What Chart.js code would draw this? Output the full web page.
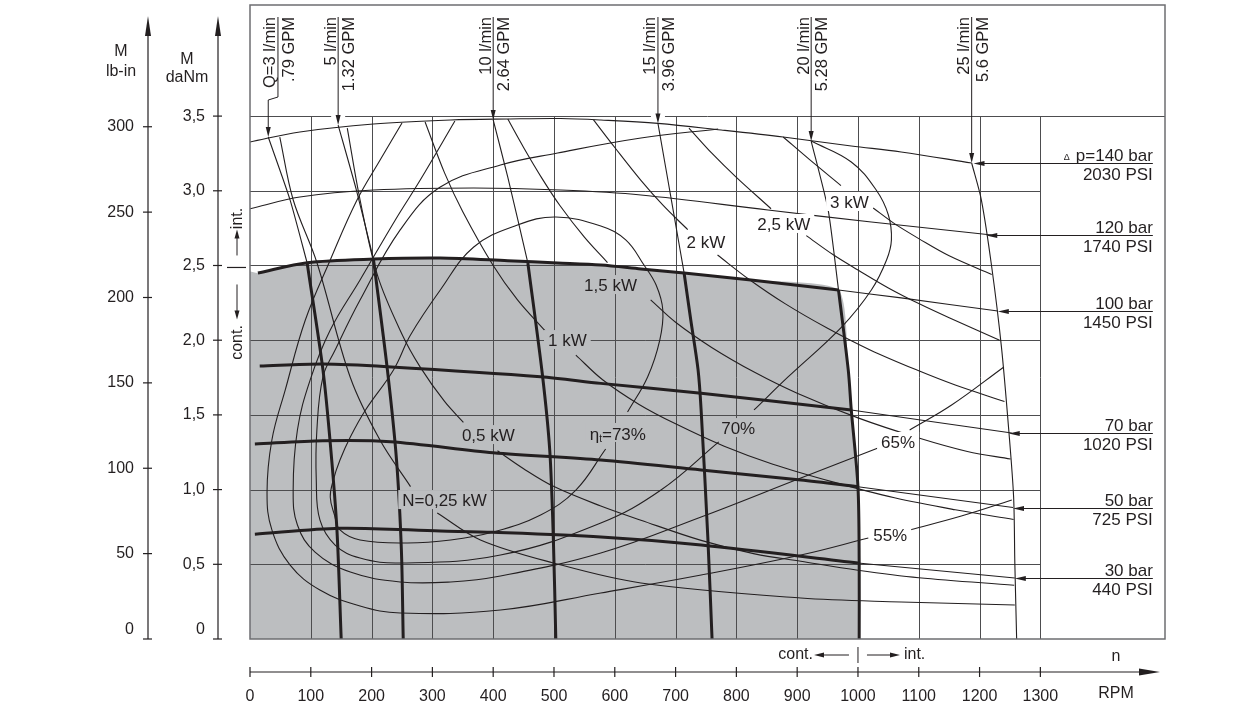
<!DOCTYPE html>
<html><head><meta charset="utf-8">
<script src="https://cdn.jsdelivr.net/npm/chart.js@4/dist/chart.umd.min.js"></script>
<style>html,body{margin:0;padding:0;background:#fff;}canvas{display:block;}</style>
</head><body>
<canvas id="c" width="1259" height="717"></canvas>
<script>
// ---------------- axis ticks ----------------
const rpmTicks = [0,100,200,300,400,500,600,700,800,900,1000,1100,1200,1300];
const danmTicks = [0,0.5,1,1.5,2,2.5,3,3.5];
const danmTickLabels = ['0','0,5','1,0','1,5','2,0','2,5','3,0','3,5'];
const lbinTicks = [0,50,100,150,200,250,300];
const gridN = [100,200,300,400,500,600,700,800,900,1000,1100,1200,1300];
const gridM = [0.5,1,1.5,2,2.5,3];

// ---------------- pressure lines (n rpm, M daNm) ----------------
const p140N = [0, 82, 203, 330, 424, 511, 577, 671, 775, 877, 989, 1071, 1187];
const p140M = [3.327, 3.394, 3.447, 3.474, 3.481, 3.484, 3.474, 3.451, 3.407, 3.360, 3.300, 3.260, 3.186];
const p120N = [0, 82, 203, 368, 511, 643, 852, 1022, 1220];
const p120M = [2.880, 2.958, 3.005, 3.019, 3.005, 2.972, 2.871, 2.791, 2.704];
const p100N = [13, 94, 203, 313, 424, 506, 577, 643, 714, 824, 968];
const p100M = [2.450, 2.519, 2.543, 2.550, 2.532, 2.517, 2.503, 2.477, 2.450, 2.403, 2.336];
const p100tN = [968, 1071, 1230];
const p100tM = [2.336, 2.283, 2.195];
const p70N = [16, 120, 226, 478, 577, 742, 989];
const p70M = [1.827, 1.841, 1.823, 1.756, 1.711, 1.645, 1.533];
const p70tN = [989, 1120, 1253];
const p70tM = [1.533, 1.456, 1.379];
const p50N = [8, 120, 231, 400, 577, 742, 906, 1000];
const p50M = [1.305, 1.327, 1.321, 1.247, 1.198, 1.131, 1.064, 1.019];
const p50tN = [1000, 1255];
const p50tM = [1.019, 0.880];
const p30N = [8, 148, 313, 400, 577, 742, 1000];
const p30M = [0.701, 0.741, 0.723, 0.714, 0.683, 0.629, 0.509];
const p30tN = [1000, 1258];
const p30tM = [0.509, 0.408];
const contLeftM = 2.46;

// ---------------- flow lines ----------------
const q3N = [30, 66, 94];          const q3M = [3.36, 2.938, 2.517];
const q3kN = [94, 120, 133, 143, 150];   const q3kM = [2.517, 1.801, 1.265, 0.730, 0];
const q5N = [145, 175, 203];       const q5M = [3.44, 3.005, 2.544];
const q5kN = [203, 226, 241, 249, 252];  const q5kM = [2.544, 1.801, 1.198, 0.596, 0];
const q10N = [400, 424, 457];      const q10M = [3.474, 3.092, 2.517];
const q10kN = [457, 481, 493, 499, 503]; const q10kM = [2.517, 1.767, 1.265, 0.663, 0];
const q15N = [671, 696, 714];      const q15M = [3.451, 2.871, 2.450];
const q15kN = [714, 725, 737, 742, 753, 760]; const q15kM = [2.450, 2.135, 1.801, 1.533, 0.683, 0];
const q20N = [923, 951, 968];      const q20M = [3.333, 2.871, 2.336];
const q20kN = [968, 984, 989, 1000, 1002, 1002]; const q20kM = [2.336, 1.801, 1.533, 1.017, 0.509, 0];
const q25N = [1187, 1203, 1220, 1236, 1248, 1256, 1258, 1261];
const q25M = [3.186, 2.938, 2.490, 1.954, 1.399, 0.950, 0.509, 0];

// ---------------- power lines ----------------
const kw025N = [49, 71, 110, 165, 214, 264, null, 308, 379, 499, 643, 906, 1071, 1258];
const kw025M = [3.36, 2.94, 2.52, 1.75, 1.33, 1.02, null, 0.843, 0.663, 0.509, 0.375, 0.274, 0.248, 0.228];
const kw05N = [160, 181, 210, 250, 280, 320, 351, null, 407, 450, 500, 577, 643, 742, 830, 906, 1000, 1100, 1257];
const kw05M = [3.42, 2.94, 2.43, 2.04, 1.82, 1.59, 1.45, null, 1.26, 1.14, 1.02, 0.89, 0.795, 0.66, 0.57, 0.52, 0.46, 0.41, 0.36];
const kw1N = [288, 320, 350, 400, 440, 486, null, 536, 580, 640, 700, 780, 860, 960, 1060, 1160, 1256];
const kw1M = [3.46, 3.12, 2.86, 2.50, 2.27, 2.06, null, 1.90, 1.735, 1.57, 1.44, 1.29, 1.17, 1.05, 0.945, 0.865, 0.80];
const kw15N = [424, 450, 480, 510, 550, 588, null, 659, 700, 760, 830, 900, 1000, 1100, 1180, 1251];
const kw15M = [3.48, 3.29, 3.085, 2.90, 2.69, 2.52, null, 2.27, 2.12, 1.95, 1.785, 1.645, 1.48, 1.345, 1.255, 1.205];
const kw2N = [565, 600, 643, 680, 720, null, 769, 820, 880, 950, 1020, 1100, 1160, 1241];
const kw2M = [3.475, 3.29, 3.07, 2.90, 2.74, null, 2.57, 2.41, 2.245, 2.08, 1.935, 1.795, 1.70, 1.59];
const kw25N = [722, 760, 800, 857, null, 915, 960, 1000, 1050, 1100, 1150, 1233];
const kw25M = [3.42, 3.25, 3.09, 2.88, null, 2.70, 2.57, 2.47, 2.35, 2.245, 2.15, 2.00];
const kw3N = [877, 920, 972, null, 1025, 1060, 1100, 1150, 1220];
const kw3M = [3.36, 3.21, 3.035, null, 2.885, 2.78, 2.68, 2.565, 2.44];

// ---------------- efficiency curves ----------------
const eta73N = [621, 654, 674, 679, 668, 648, 618, 577, 503, 440, 368, 313, 264, 236, 190, 165, 148, 137, 132, 139, 148, 181, 259, 330, 400, 478, 536, 585];
const eta73M = [1.519, 1.754, 2.001, 2.202, 2.369, 2.503, 2.671, 2.764, 2.825, 2.771, 2.624, 2.336, 2.035, 1.801, 1.533, 1.352, 1.198, 1.064, 0.950, 0.830, 0.730, 0.663, 0.643, 0.663, 0.716, 0.830, 0.997, 1.272];
const eta70N = [770, 643, 506, 412, 313, 247, 181, 140, 120, 110, 109, 115, 140, 181, 247, 412, 577, 676, 771, null, 829, 885, 973, 1022, 1047, 1055, 1050, 1030, 989, 923];
const eta70M = [3.414, 3.353, 3.253, 3.173, 3.025, 2.738, 2.269, 1.934, 1.754, 1.399, 1.064, 0.797, 0.629, 0.542, 0.509, 0.562, 0.776, 0.997, 1.319, null, 1.533, 1.754, 2.088, 2.336, 2.537, 2.671, 2.838, 3.005, 3.193, 3.333];
const eta65N = [337, 280, 239, 181, 132, 99, 78, 71, 78, 107, 165, 247, 330, 412, 577, 742, 906, 1033, null, 1085, 1154, 1240];
const eta65M = [3.467, 3.072, 2.805, 2.403, 2.068, 1.734, 1.399, 0.997, 0.763, 0.582, 0.448, 0.382, 0.382, 0.422, 0.576, 0.817, 1.078, 1.278, null, 1.399, 1.566, 1.821];
const eta55N = [250, 214, 176, 132, 91, 58, 36, 28, 36, 66, 115, 181, 247, 412, 577, 742, 906, 1017, null, 1085, 1170, 1253];
const eta55M = [3.454, 3.206, 2.938, 2.537, 2.135, 1.667, 1.332, 0.977, 0.730, 0.495, 0.328, 0.221, 0.174, 0.194, 0.308, 0.428, 0.562, 0.676, null, 0.730, 0.823, 0.930];

// ---------------- annotations ----------------
const qTopText = ['Q=3 l/min','5 l/min','10 l/min','15 l/min','20 l/min','25 l/min'];
const qBotText = ['.79 GPM','1.32 GPM','2.64 GPM','3.96 GPM','5.28 GPM','5.6 GPM'];
const qTipN = [30, 145, 400, 671, 923, 1187];
const qTipM = [3.36, 3.44, 3.474, 3.451, 3.333, 3.186];
const qLeadN = [46, 145, 400, 671, 923, 1187];

const pTopText = ['p=140 bar','120 bar','100 bar','70 bar','50 bar','30 bar'];
const pBotText = ['2030 PSI','1740 PSI','1450 PSI','1020 PSI','725 PSI','440 PSI'];
const pTipN = [1190, 1211, 1230, 1248, 1255, 1258];
const pTipM = [3.186, 2.704, 2.195, 1.379, 0.877, 0.408];
const pLabelEndN = 1485;

const powerText = ['N=0,25 kW','0,5 kW','1 kW','1,5 kW','2 kW','2,5 kW','3 kW'];
const powerLabN = [320, 392, 522, 593, 750, 878, 986];
const powerLabM = [0.930, 1.365, 2.001, 2.369, 2.657, 2.778, 2.925];
const effText = ['=73%','70%','65%','55%'];
const effLabN = [605, 803, 1066, 1053];
const effLabM = [1.379, 1.412, 1.319, 0.696];

// ---------------- styles ----------------
const INK = '#231f20', GRID = '#4d4d4f', GREY = '#bcbec0', FRAME = '#6d6e71';
const FONT = '"Liberation Sans", Arial, Helvetica, sans-serif';
const powerBg = [GREY, GREY, GREY, GREY, '#fff', '#fff', '#fff'];
const effBg = [GREY, GREY, '#fff', '#fff'];
const qGridGap = [false, true, false, true, false, false];

function pts(N, M) { return N.map((n, i) => ({x: n, y: M[i]})); }
function thin(N, M, t) { return {data: pts(N, M), borderColor: INK, borderWidth: 1.1, pointRadius: 0, tension: t === undefined ? 0.35 : t, fill: false, showLine: true, order: 1}; }
function thick(N, M) { return {data: pts(N, M), borderColor: INK, borderWidth: 3, pointRadius: 0, tension: 0.3, fill: false, showLine: true, order: 0, borderCapStyle: 'butt'}; }

const fillPts = [{x: 0, y: contLeftM}].concat(pts(p100N, p100M), pts(q20kN.slice(1), q20kM.slice(1)));

const datasets = [
  {data: fillPts, borderColor: 'rgba(0,0,0,0)', borderWidth: 0, backgroundColor: GREY, fill: 'origin', pointRadius: 0, tension: 0.2, showLine: true, order: 10},
  thin(p140N, p140M), thin(p120N, p120M), thin(p100tN, p100tM, 0.2), thin(p70tN, p70tM, 0.2), thin(p50tN, p50tM, 0), thin(p30tN, p30tM, 0),
  thick(p100N, p100M), thick(p70N, p70M), thick(p50N, p50M), thick(p30N, p30M),
  thin(q3N, q3M, 0.2), thin(q5N, q5M, 0.2), thin(q10N, q10M, 0.2), thin(q15N, q15M, 0.2), thin(q20N, q20M, 0.2), thin(q25N, q25M, 0.3),
  thick(q3kN, q3kM), thick(q5kN, q5kM), thick(q10kN, q10kM), thick(q15kN, q15kM), thick(q20kN, q20kM),
  thin(kw025N, kw025M), thin(kw05N, kw05M), thin(kw1N, kw1M), thin(kw15N, kw15M), thin(kw2N, kw2M), thin(kw25N, kw25M), thin(kw3N, kw3M),
  thin(eta73N, eta73M, 0.4), thin(eta70N, eta70M, 0.4), thin(eta65N, eta65M, 0.4), thin(eta55N, eta55M, 0.4)
];

function arrowHead(ctx, tx, ty, dx, dy, len, half) {
  const bx = tx - dx * len, by = ty - dy * len, nx = -dy, ny = dx;
  ctx.beginPath(); ctx.moveTo(tx, ty);
  ctx.lineTo(bx + nx * half, by + ny * half); ctx.lineTo(bx - nx * half, by - ny * half);
  ctx.closePath(); ctx.fill();
}
function seg(ctx, x1, y1, x2, y2) { ctx.beginPath(); ctx.moveTo(x1, y1); ctx.lineTo(x2, y2); ctx.stroke(); }
function rotText(ctx, s, bx, y, align, base) {
  ctx.save(); ctx.translate(bx, y); ctx.rotate(-Math.PI / 2);
  ctx.textAlign = align; ctx.textBaseline = base; ctx.fillText(s, 0, 0); ctx.restore();
}
function boxText(ctx, s, cx, cy, bg) {
  const w = ctx.measureText(s).width;
  ctx.fillStyle = bg; ctx.fillRect(cx - w / 2 - 4, cy - 10, w + 8, 19);
  ctx.fillStyle = INK; ctx.textAlign = 'center'; ctx.textBaseline = 'middle'; ctx.fillText(s, cx, cy + 1);
}

const deco = {
  id: 'deco',
  afterDatasetDraw(chart, args) {
    if (args.index !== 0) return;
    const {ctx} = chart, xs = chart.scales.x, ys = chart.scales.y;
    const X = v => xs.getPixelForValue(v), Y = v => ys.getPixelForValue(v);
    ctx.save(); ctx.strokeStyle = GRID; ctx.lineWidth = 1;
    ctx.beginPath();
    for (const n of gridN) { const px = Math.round(X(n)) + 0.5; ctx.moveTo(px, Y(0)); ctx.lineTo(px, Y(3.5)); }
    for (const m of gridM) { const py = Math.round(Y(m)) + 0.5; ctx.moveTo(X(0), py); ctx.lineTo(X(1300), py); }
    const top = Math.round(Y(3.5)) + 0.5; ctx.moveTo(X(0), top); ctx.lineTo(chart.chartArea.right, top);
    ctx.stroke();
    ctx.fillStyle = '#fff';
    qTipN.forEach((n, i) => { if (qGridGap[i]) ctx.fillRect(X(n) - 7, top - 2, 14, 4); });
    ctx.restore();
  },
  afterDatasetsDraw(chart) {
    const {ctx, chartArea: ca} = chart, xs = chart.scales.x, ys = chart.scales.y, ls = chart.scales.yLb;
    const X = v => xs.getPixelForValue(v), Y = v => ys.getPixelForValue(v);
    ctx.save();
    // frame
    ctx.strokeStyle = FRAME; ctx.lineWidth = 1.5;
    ctx.strokeRect(ca.left, ca.top, ca.right - ca.left, ca.bottom - ca.top);
    ctx.strokeStyle = INK; ctx.fillStyle = INK; ctx.lineWidth = 1;

    // flow labels + arrows
    ctx.font = '16.5px ' + FONT;
    for (let i = 0; i < qTipN.length; i++) {
      const tx = X(qTipN[i]), ty = Y(qTipM[i]), lx = X(qLeadN[i]);
      ctx.beginPath(); ctx.moveTo(lx, 17);
      if (Math.abs(lx - tx) > 1) { ctx.lineTo(lx, 97); ctx.lineTo(tx, 100); }
      ctx.lineTo(tx, ty - 8); ctx.stroke();
      arrowHead(ctx, tx, ty, 0, 1, 10, 2.5);
      rotText(ctx, qTopText[i], lx - 2.5, 17, 'right', 'alphabetic');
      rotText(ctx, qBotText[i], lx + 16, 17, 'right', 'alphabetic');
    }

    // pressure labels + arrows
    const rx = X(pLabelEndN);
    for (let i = 0; i < pTipN.length; i++) {
      const tx = X(pTipN[i]), ty = Math.round(Y(pTipM[i])) + 0.5;
      seg(ctx, tx + 8, ty, rx, ty);
      arrowHead(ctx, tx, ty, -1, 0, 11, 2.5);
      ctx.font = '17px ' + FONT; ctx.textAlign = 'right'; ctx.textBaseline = 'alphabetic';
      ctx.fillText(pTopText[i], rx, ty - 3);
      ctx.fillText(pBotText[i], rx, ty + 16);
      if (i === 0) {
        const w = ctx.measureText(pTopText[i]).width;
        ctx.font = '9px ' + FONT; ctx.fillText('\u0394', rx - w - 6, ty - 4);
      }
    }

    // in-chart labels
    ctx.font = '17px ' + FONT;
    for (let i = 0; i < powerText.length; i++) boxText(ctx, powerText[i], X(powerLabN[i]), Y(powerLabM[i]), powerBg[i]);
    for (let i = 1; i < effText.length; i++) boxText(ctx, effText[i], X(effLabN[i]), Y(effLabM[i]), effBg[i]);
    {
      const cx = X(effLabN[0]), cy = Y(effLabM[0]);
      ctx.font = '17px ' + FONT;
      const w1 = ctx.measureText('\u03b7').width, w3 = ctx.measureText(effText[0]).width;
      ctx.font = '10px ' + FONT; const w2 = ctx.measureText('t').width;
      const W = w1 + w2 + w3, x0 = cx - W / 2;
      ctx.fillStyle = effBg[0]; ctx.fillRect(x0 - 4, cy - 10, W + 8, 19);
      ctx.fillStyle = INK; ctx.textAlign = 'left'; ctx.textBaseline = 'alphabetic';
      ctx.font = '17px ' + FONT; ctx.fillText('\u03b7', x0, cy + 7);
      ctx.font = '10px ' + FONT; ctx.fillText('t', x0 + w1, cy + 9);
      ctx.font = '17px ' + FONT; ctx.fillText(effText[0], x0 + w1 + w2, cy + 7);
    }

    // left axes
    ctx.strokeStyle = INK; ctx.fillStyle = INK; ctx.lineWidth = 1.2;
    ctx.font = '16px ' + FONT;
    const a1 = ca.left - 32, a2 = ca.left - 102;
    seg(ctx, a1, Y(0), a1, 30); arrowHead(ctx, a1, 16, 0, -1, 20, 3);
    seg(ctx, a2, ls.getPixelForValue(0), a2, 30); arrowHead(ctx, a2, 16, 0, -1, 20, 3);
    ctx.textAlign = 'right'; ctx.textBaseline = 'middle';
    danmTicks.forEach((m, i) => {
      const py = Y(m); seg(ctx, a1 - 5, py, a1 + 4, py);
      ctx.fillText(danmTickLabels[i], a1 - 13, py - (m === 0 ? 9 : 0));
    });
    lbinTicks.forEach(v => {
      const py = ls.getPixelForValue(v); seg(ctx, a2 - 5, py, a2 + 4, py);
      ctx.fillText(String(v), a2 - 14, py - (v === 0 ? 9 : 0));
    });
    ctx.textAlign = 'center';
    ctx.fillText('M', a1 - 31, 60); ctx.fillText('daNm', a1 - 31, 78);
    ctx.fillText('M', a2 - 27, 52); ctx.fillText('lb-in', a2 - 27, 72);

    // left cont./int.
    const ax = a1 + 19, sy = Y(contLeftM) - 4;
    seg(ctx, ax - 10, sy, ax + 9, sy);
    ctx.lineWidth = 1;
    seg(ctx, ax, sy - 12, ax, sy - 30); arrowHead(ctx, ax, sy - 38, 0, -1, 9, 2.5);
    seg(ctx, ax, sy + 17, ax, sy + 44); arrowHead(ctx, ax, sy + 52, 0, 1, 9, 2.5);
    rotText(ctx, 'int.', ax + 1, sy - 49, 'center', 'middle');
    rotText(ctx, 'cont.', ax + 1, sy + 75, 'center', 'middle');

    // bottom axis
    const by = ca.bottom + 33;
    ctx.lineWidth = 1.2;
    seg(ctx, X(0), by, X(0) + 895, by); arrowHead(ctx, X(0) + 910, by, 1, 0, 21, 3.5);
    ctx.textAlign = 'center'; ctx.textBaseline = 'middle';
    rpmTicks.forEach(n => { const px = X(n); seg(ctx, px, by - 5, px, by + 5); ctx.fillText(String(n), px, by + 25); });
    ctx.fillText('n', X(0) + 866, by - 15); ctx.fillText('RPM', X(0) + 866, by + 22);

    // bottom cont./int.
    const cx = X(1000), cy = by - 17;
    ctx.lineWidth = 1;
    seg(ctx, cx, cy - 8, cx, cy + 8);
    seg(ctx, cx - 9, cy, cx - 38, cy); arrowHead(ctx, cx - 44, cy, -1, 0, 10, 2.5);
    seg(ctx, cx + 9, cy, cx + 36, cy); arrowHead(ctx, cx + 42, cy, 1, 0, 10, 2.5);
    ctx.textAlign = 'right'; ctx.fillText('cont.', cx - 45, cy);
    ctx.textAlign = 'left'; ctx.fillText('int.', cx + 46, cy);
    ctx.restore();
  }
};

new Chart(document.getElementById('c'), {
  type: 'scatter',
  data: {datasets},
  options: {
    responsive: false, animation: false, events: [],
    layout: {padding: {left: 250, right: 94, top: 5, bottom: 78}, autoPadding: false},
    scales: {
      x: {type: 'linear', min: 0, max: 1505, display: false},
      y: {type: 'linear', min: 0, max: 4.2436, display: false},
      yLb: {type: 'linear', min: 0, max: 371.3, display: false, position: 'left'}
    },
    plugins: {legend: {display: false}, tooltip: {enabled: false}}
  },
  plugins: [deco]
});
</script>
</body></html>
